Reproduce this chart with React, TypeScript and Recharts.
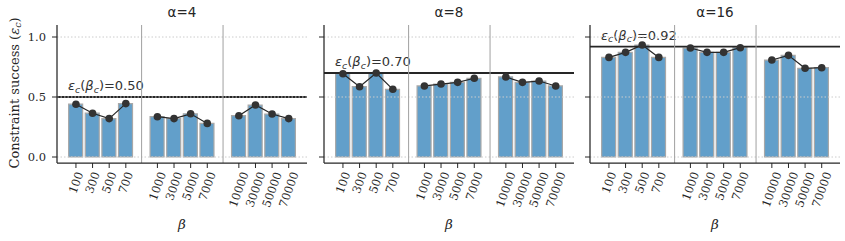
import React from 'react';
import { ComposedChart, Bar, Line, XAxis, YAxis, ReferenceLine } from 'recharts';

// ---- data ----
const betaLabels = ['100', '300', '500', '700', '1000', '3000', '5000', '7000', '10000', '30000', '50000', '70000'];
const groupIndex = [0, 0, 0, 0, 1, 1, 1, 1, 2, 2, 2, 2];
const withinIndex = [0, 1, 2, 3, 0, 1, 2, 3, 0, 1, 2, 3];
const panelTitles = ['α=4', 'α=8', 'α=16'];
const successAlpha4 = [0.44, 0.365, 0.32, 0.445, 0.336, 0.32, 0.36, 0.28, 0.344, 0.433, 0.358, 0.32];
const successAlpha8 = [0.694, 0.586, 0.7, 0.564, 0.592, 0.608, 0.622, 0.656, 0.667, 0.622, 0.633, 0.592];
const successAlpha16 = [0.83, 0.872, 0.933, 0.83, 0.908, 0.872, 0.872, 0.911, 0.808, 0.847, 0.739, 0.744];
const criticalSuccess = [0.5, 0.7, 0.92];
const yTicks = [0, 0.5, 1.0];

// ---- layout helpers ----
const GROUP_STRIDE = 4.9;
const positions = betaLabels.map((_, i) => withinIndex[i] + groupIndex[i] * GROUP_STRIDE);
const separators = [(3 + GROUP_STRIDE) / 2, (3 + GROUP_STRIDE + 2 * GROUP_STRIDE) / 2];
const X_DOMAIN: [number, number] = [-1.14, 13.9];
const Y_DOMAIN: [number, number] = [-0.05, 1.1];
const PLOT_W = 250;

const INK = '#262626';
const BAR_FILL = '#629fca';
const SERIF = '"DejaVu Serif", serif';
const SANS = '"DejaVu Sans", sans-serif';

function buildRows(values: number[]) {
  return values.map((v, i) => ({
    pos: positions[i],
    v,
    g0: groupIndex[i] === 0 ? v : null,
    g1: groupIndex[i] === 1 ? v : null,
    g2: groupIndex[i] === 2 ? v : null,
  }));
}

const labelForPos = (p: number) => {
  const idx = positions.findIndex((q) => Math.abs(q - p) < 1e-6);
  return idx >= 0 ? betaLabels[idx] : '';
};

const XTick = (props: any) => {
  const { x, payload } = props;
  const label = labelForPos(payload.value);
  const fs = 11.5;
  const L = label.length * 0.636 * fs;
  const top = 171;
  const cy = top + (L * 0.94 + 8 * 0.342) / 2;
  return (
    <text
      x={x}
      y={cy}
      transform={`rotate(-70 ${x} ${cy})`}
      textAnchor="middle"
      dominantBaseline="central"
      fontFamily={SERIF}
      fontSize={fs}
      fill={INK}
    >
      {label}
    </text>
  );
};

const YTick = (props: any) => {
  const { x, y, payload } = props;
  return (
    <text x={x} y={y} textAnchor="end" dominantBaseline="central" fontFamily={SERIF} fontSize={11.5} fill={INK}>
      {Number(payload.value).toFixed(1)}
    </text>
  );
};

const EmptyTick = () => <g />;

const CritLabel = (value: number) => (props: any) => {
  const vb = props.viewBox || {};
  const x = (vb.x ?? 0) + 11;
  const y = (vb.y ?? 0) - 7;
  return (
    <text x={x} y={y} fontFamily={SANS} fontSize={13} fill="#333">
      <tspan fontStyle="italic">ε</tspan>
      <tspan fontStyle="italic" fontSize={9.5} dy={2.5}>c</tspan>
      <tspan dy={-2.5}>(</tspan>
      <tspan fontStyle="italic">β</tspan>
      <tspan fontStyle="italic" fontSize={9.5} dy={2.5}>c</tspan>
      <tspan dy={-2.5}>)={value.toFixed(2)}</tspan>
    </text>
  );
};

type PanelProps = {
  values: number[];
  title: string;
  crit: number;
  left: number;
  yWidth: number;
  rightMargin: number;
  first: boolean;
};

function Panel({ values, title, crit, left, yWidth, rightMargin, first }: PanelProps) {
  const rows = buildRows(values);
  const W = yWidth + PLOT_W + rightMargin;
  const cx = yWidth + PLOT_W / 2;
  return (
    <div style={{ position: 'absolute', left, top: 0 }}>
      <ComposedChart
        width={W}
        height={241}
        data={rows}
        margin={{ top: 25, right: rightMargin, left: 0, bottom: 0 }}
      >
        <XAxis
          type="number"
          dataKey="pos"
          domain={X_DOMAIN}
          allowDataOverflow
          ticks={positions}
          interval={0}
          height={78}
          tickSize={5}
          tick={<XTick />}
          axisLine={{ stroke: INK, strokeWidth: 1.25 }}
          tickLine={{ stroke: INK, strokeWidth: 1 }}
        />
        <YAxis
          type="number"
          domain={Y_DOMAIN}
          allowDataOverflow
          ticks={yTicks}
          width={yWidth}
          tickSize={5}
          tickMargin={6}
          tick={first ? <YTick /> : <EmptyTick />}
          axisLine={{ stroke: INK, strokeWidth: 1.25 }}
          tickLine={{ stroke: INK, strokeWidth: 1 }}
        />
        <ReferenceLine y={crit} stroke={INK} strokeWidth={1.8} label={CritLabel(crit)} />
        {yTicks.map((t) => (
          <ReferenceLine key={'g' + t} y={t} stroke="#cccccc" strokeWidth={1} strokeDasharray="1.5 2" />
        ))}
        {separators.map((s) => (
          <ReferenceLine key={'s' + s} x={s} stroke="#a0a0a0" strokeWidth={1} />
        ))}
        <Bar dataKey="v" barSize={14} fill={BAR_FILL} stroke="#a8a8a8" strokeWidth={1.2} isAnimationActive={false} />
        {['g0', 'g1', 'g2'].map((k) => (
          <Line
            key={k}
            dataKey={k}
            stroke={INK}
            strokeWidth={1.2}
            dot={{ r: 3.8, fill: '#333', stroke: '#333', strokeWidth: 0 }}
            activeDot={false}
            isAnimationActive={false}
            connectNulls={false}
          />
        ))}
        <text x={cx} y={17} textAnchor="middle" fontFamily={SANS} fontSize={13.5} fill={INK}>
          {title}
        </text>
        <text x={cx} y={229} textAnchor="middle" fontFamily={SERIF} fontStyle="italic" fontSize={13.5} fill={INK}>
          β
        </text>
        {first && (
          <text
            x={14}
            y={93}
            transform="rotate(-90 14 93)"
            textAnchor="middle"
            dominantBaseline="central"
            fontFamily={SERIF}
            fontSize={13}
            fill={INK}
          >
            Constraint success (<tspan fontStyle="italic">ε</tspan>
            <tspan fontStyle="italic" fontSize={9.5} dy={3}>c</tspan>
            <tspan dy={-3}>)</tspan>
          </text>
        )}
      </ComposedChart>
    </div>
  );
}

export default function App() {
  return (
    <div style={{ position: 'absolute', left: 0, top: 0, width: 845, height: 241, background: '#fff' }}>
      <Panel values={successAlpha4} title={panelTitles[0]} crit={criticalSuccess[0]} left={0} yWidth={57} rightMargin={5} first />
      <Panel values={successAlpha8} title={panelTitles[1]} crit={criticalSuccess[1]} left={312} yWidth={12} rightMargin={3} first={false} />
      <Panel values={successAlpha16} title={panelTitles[2]} crit={criticalSuccess[2]} left={577} yWidth={13} rightMargin={5} first={false} />
    </div>
  );
}
